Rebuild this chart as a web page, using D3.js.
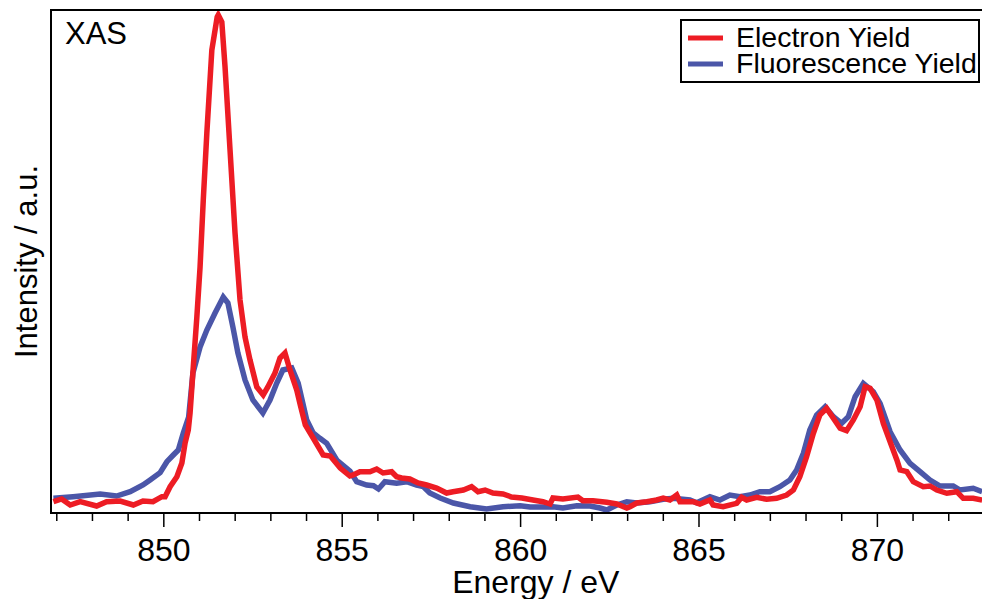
<!DOCTYPE html>
<html>
<head>
<meta charset="utf-8">
<script src="https://cdn.jsdelivr.net/npm/d3@7"></script>
<style>
  body { margin: 0; background: #fff; }
  text { font-family: "Liberation Sans", Arial, sans-serif; fill: #000; }
</style>
</head>
<body>
<div id="chart"></div>
<script>
// XAS spectrum: electron yield vs fluorescence yield

var seriesNames = ["Electron Yield", "Fluorescence Yield"];
var seriesColors = ["#ed1c24", "#4b56a8"];

var majorTicks = [850, 855, 860, 865, 870];
var minorTicks = [847, 848, 849, 851, 852, 853, 854, 856, 857, 858, 859, 861, 862, 863, 864, 866, 867, 868, 869, 871, 872, 873];

// Electron yield (red)
var energyEY = [846.92, 847.15, 847.39, 847.67, 848.13, 848.41, 848.79, 849.16, 849.43, 849.71,
  849.96, 850.05, 850.19, 850.38, 850.52, 850.61, 850.70, 850.75, 850.84, 850.94,
  851.03, 851.12, 851.22, 851.36, 851.51, 851.54, 851.64, 851.73, 851.87, 852.01,
  852.15, 852.29, 852.43, 852.62, 852.80, 852.93, 853.13, 853.27, 853.41, 853.55,
  853.74, 853.84, 853.98, 854.20, 854.48, 854.68, 854.96, 855.23, 855.32, 855.51,
  855.79, 855.98, 856.16, 856.40, 856.54, 856.68, 856.91, 857.14, 857.38, 857.66,
  857.94, 858.12, 858.41, 858.64, 858.82, 859.02, 859.24, 859.52, 859.76, 860.05,
  860.36, 860.64, 860.84, 860.92, 861.20, 861.62, 861.76, 862.04, 862.43, 862.71,
  862.99, 863.08, 863.27, 863.55, 863.83, 864.01, 864.20, 864.39, 864.48, 864.85,
  865.04, 865.32, 865.41, 865.69, 866.07, 866.21, 866.35, 866.63, 866.91, 867.19,
  867.47, 867.66, 867.84, 868.03, 868.22, 868.40, 868.59, 868.78, 868.97, 869.15,
  869.34, 869.53, 869.67, 869.81, 870.00, 870.18, 870.37, 870.56, 870.65, 870.84,
  871.02, 871.30, 871.49, 871.68, 871.96, 872.24, 872.42, 872.70, 872.95];
var electronYield = [2.26, 2.8, 1.6, 2.26, 1.4, 2.26, 2.4, 1.6, 2.4, 2.26,
  3.26, 3.26, 5.26, 7.26, 10.0, 14.0, 16.6, 20.0, 29.2, 39.2,
  49.2, 62.6, 76.0, 92.6, 99.2, 99.6, 98.2, 89.2, 72.6, 56.0,
  42.6, 35.2, 30.6, 25.2, 23.6, 25.2, 28.0, 31.0, 32.0, 28.6,
  24.6, 21.6, 17.6, 15.0, 11.6, 11.4, 9.0, 7.4, 7.6, 8.26,
  8.26, 8.8, 8.0, 8.26, 7.26, 7.0, 6.8, 6.0, 5.6, 5.0,
  4.0, 4.26, 4.6, 5.26, 4.26, 4.6, 4.0, 3.8, 3.2, 3.0,
  2.6, 2.26, 1.8, 3.0, 2.8, 3.2, 2.46, 2.46, 2.14, 1.8,
  1.0, 1.26, 2.0, 2.26, 2.6, 3.0, 2.6, 3.6, 2.26, 2.26,
  1.8, 2.6, 1.6, 1.26, 1.94, 3.14, 2.6, 3.14, 2.74, 2.94,
  3.6, 4.6, 7.26, 11.26, 15.94, 19.6, 20.94, 18.94, 16.94, 16.46,
  18.6, 21.26, 25.26, 24.94, 22.6, 17.94, 14.26, 10.6, 8.6, 8.26,
  6.26, 5.26, 5.4, 4.6, 3.94, 4.26, 2.94, 2.94, 2.6];

// Fluorescence yield (blue)
var energyFY = [846.92, 847.47, 848.23, 848.69, 849.07, 849.43, 849.63, 849.91, 850.10, 850.28,
  850.42, 850.56, 850.71, 850.83, 851.03, 851.22, 851.45, 851.68, 851.81, 851.95,
  852.09, 852.29, 852.51, 852.79, 852.99, 853.18, 853.35, 853.60, 853.78, 854.02,
  854.20, 854.39, 854.58, 854.86, 855.23, 855.42, 855.70, 855.89, 856.03, 856.21,
  856.54, 856.82, 857.10, 857.29, 857.47, 857.76, 858.13, 858.60, 859.06, 859.52,
  860.00, 860.28, 860.64, 860.92, 861.20, 861.59, 861.96, 862.24, 862.43, 862.71,
  862.99, 863.27, 863.64, 864.01, 864.29, 864.76, 864.95, 865.32, 865.60, 865.88,
  866.16, 866.44, 866.72, 867.00, 867.28, 867.56, 867.75, 867.94, 868.12, 868.31,
  868.55, 868.78, 869.01, 869.20, 869.39, 869.62, 869.90, 870.09, 870.37, 870.65,
  870.93, 871.21, 871.49, 871.77, 872.14, 872.33, 872.70, 872.95];
var fluorescenceYield = [2.94, 3.26, 3.8, 3.4, 4.26, 5.6, 6.6, 8.06, 10.26, 11.6,
  12.6, 16.0, 19.2, 28.0, 33.2, 36.6, 40.0, 43.2, 42.0, 37.2,
  32.0, 26.6, 22.6, 20.0, 22.6, 26.0, 28.6, 29.0, 26.0, 18.6,
  16.0, 14.94, 13.94, 10.6, 8.4, 6.26, 5.6, 5.46, 4.8, 6.26,
  5.94, 6.26, 5.6, 5.26, 4.0, 3.0, 2.0, 1.26, 0.8, 1.26,
  1.46, 1.2, 1.2, 1.26, 1.0, 1.46, 1.4, 1.0, 0.6, 1.6,
  2.26, 2.0, 2.26, 2.74, 2.94, 2.6, 2.06, 3.26, 2.6, 3.6,
  3.26, 3.6, 4.26, 4.26, 5.26, 6.6, 8.6, 11.94, 16.6, 19.6,
  21.26, 19.26, 17.94, 19.26, 23.26, 25.94, 24.26, 21.94, 16.26, 12.6,
  9.94, 8.26, 6.6, 5.4, 5.4, 4.6, 4.94, 4.26];

var svgWidth = 982;
var svgHeight = 599;

var margin = { top: 10, left: 52, bottom: 86 };
var plotRight = 1019.6; // frame runs past the right edge of the picture

var svg = d3.select("#chart")
  .append("svg")
  .attr("width", svgWidth)
  .attr("height", svgHeight);

var xScale = d3.scaleLinear()
  .domain([846.88, 874])
  .range([margin.left, plotRight]);

var yScale = d3.scaleLinear()
  .domain([0, 100.6])
  .range([svgHeight - margin.bottom, margin.top]);

var bottomY = svgHeight - margin.bottom;

svg.append("clipPath")
  .attr("id", "plot-clip")
  .append("rect")
  .attr("x", margin.left)
  .attr("y", margin.top)
  .attr("width", svgWidth - margin.left)
  .attr("height", bottomY - margin.top);

// curves, blue first so red sits on top
var lineGen = d3.line()
  .x(d => xScale(d[0]))
  .y(d => yScale(d[1]));

var curves = [
  d3.zip(energyFY, fluorescenceYield),
  d3.zip(energyEY, electronYield)
];
var curveColors = [seriesColors[1], seriesColors[0]];

svg.append("g")
  .attr("clip-path", "url(#plot-clip)")
  .selectAll("path")
  .data(curves)
  .enter()
  .append("path")
  .attr("d", lineGen)
  .attr("fill", "none")
  .attr("stroke", (d, i) => curveColors[i])
  .attr("stroke-width", 5.5);

// frame
svg.append("rect")
  .attr("x", margin.left - 1)
  .attr("y", margin.top)
  .attr("width", plotRight - margin.left + 1)
  .attr("height", bottomY - margin.top)
  .attr("fill", "none")
  .attr("stroke", "#000")
  .attr("stroke-width", 2);

// x axis: major + minor ticks
var minorAxis = d3.axisBottom(xScale)
  .tickValues(minorTicks)
  .tickSize(8)
  .tickSizeOuter(0)
  .tickFormat("");

var majorAxis = d3.axisBottom(xScale)
  .tickValues(majorTicks)
  .tickSize(14)
  .tickSizeOuter(0)
  .tickPadding(11)
  .tickFormat(d3.format("d"));

var gMinor = svg.append("g")
  .attr("transform", `translate(0, ${bottomY})`)
  .call(minorAxis);
gMinor.select(".domain").remove();
gMinor.selectAll("line").attr("stroke-width", 1.5);

var gMajor = svg.append("g")
  .attr("transform", `translate(0, ${bottomY})`)
  .call(majorAxis);
gMajor.select(".domain").remove();
gMajor.selectAll("line").attr("stroke-width", 1.5);
gMajor.selectAll("text")
  .attr("font-family", "Liberation Sans, Arial, sans-serif")
  .attr("font-size", "32px")
  .attr("fill", "#000");

// axis titles
svg.append("text")
  .attr("x", (margin.left + plotRight) / 2)
  .attr("y", 593)
  .attr("text-anchor", "middle")
  .attr("font-size", "32px")
  .text("Energy / eV");

svg.append("text")
  .attr("transform", `translate(37, ${(margin.top + bottomY) / 2}) rotate(-90)`)
  .attr("text-anchor", "middle")
  .attr("font-size", "31px")
  .text("Intensity / a.u.");

svg.append("text")
  .attr("x", 65)
  .attr("y", 44)
  .attr("font-size", "31px")
  .text("XAS");

// legend
var legend = svg.append("g");
legend.append("rect")
  .attr("x", 681)
  .attr("y", 20)
  .attr("width", 298)
  .attr("height", 62)
  .attr("fill", "#fff")
  .attr("stroke", "#000")
  .attr("stroke-width", 2);

var legendRows = legend.selectAll("g.row")
  .data(seriesNames)
  .enter()
  .append("g")
  .attr("class", "row")
  .attr("transform", (d, i) => `translate(0, ${i * 26})`);

legendRows.append("line")
  .attr("x1", 688)
  .attr("x2", 723)
  .attr("y1", 38)
  .attr("y2", 38)
  .attr("stroke", (d, i) => seriesColors[i])
  .attr("stroke-width", 5);

legendRows.append("text")
  .attr("x", 736)
  .attr("y", 47)
  .attr("font-size", "28.5px")
  .text(d => d);
</script>
</body>
</html>
